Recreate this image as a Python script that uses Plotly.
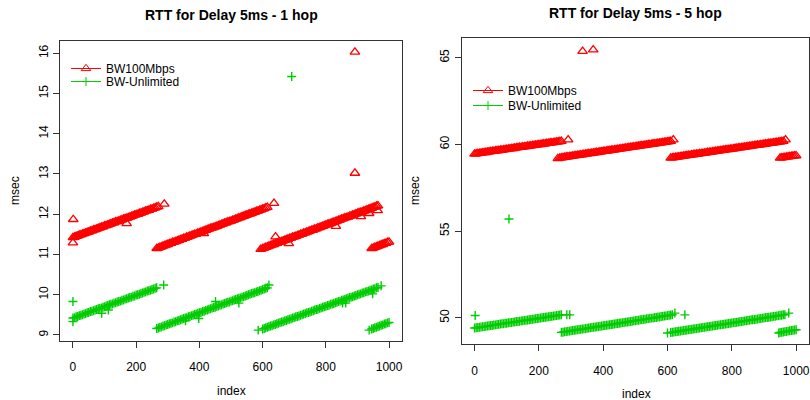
import plotly.graph_objects as go

STEP = 5  # index spacing of the samples inside each run

# ---------- RTT for Delay 5ms - 1 hop ----------
h1_bw100_run_start = [0, 265, 600, 945]
h1_bw100_runs = [
    [11.42, 11.43, 11.45, 11.46, 11.48, 11.49, 11.51, 11.52, 11.53, 11.55, 11.56, 11.58, 11.59, 11.61,
     11.62, 11.63, 11.65, 11.66, 11.68, 11.69, 11.71, 11.72, 11.73, 11.75, 11.76, 11.78, 11.79, 11.81,
     11.82, 11.83, 11.85, 11.86, 11.88, 11.89, 11.90, 11.92, 11.93, 11.95, 11.96, 11.98, 11.99, 12.00,
     12.02, 12.03, 12.05, 12.06, 12.08, 12.09, 12.10, 12.12, 12.13, 12.15, 12.16, 12.18, 12.19],
    [11.15, 11.16, 11.18, 11.19, 11.21, 11.22, 11.24, 11.25, 11.27, 11.28, 11.30, 11.31, 11.32, 11.34,
     11.35, 11.37, 11.38, 11.40, 11.41, 11.43, 11.44, 11.46, 11.47, 11.49, 11.50, 11.51, 11.53, 11.54,
     11.56, 11.57, 11.59, 11.60, 11.62, 11.63, 11.65, 11.66, 11.67, 11.69, 11.70, 11.72, 11.73, 11.75,
     11.76, 11.78, 11.79, 11.81, 11.82, 11.83, 11.85, 11.86, 11.88, 11.89, 11.91, 11.92, 11.94, 11.95,
     11.97, 11.98, 12.00, 12.01, 12.02, 12.04, 12.05, 12.07, 12.08, 12.10, 12.11, 12.13, 12.14, 12.16,
     12.17],
    [11.15, 11.16, 11.18, 11.19, 11.21, 11.22, 11.24, 11.25, 11.27, 11.28, 11.30, 11.31, 11.32, 11.34,
     11.35, 11.37, 11.38, 11.40, 11.41, 11.43, 11.44, 11.45, 11.47, 11.48, 11.50, 11.51, 11.53, 11.54,
     11.56, 11.57, 11.59, 11.60, 11.61, 11.63, 11.64, 11.66, 11.67, 11.69, 11.70, 11.72, 11.73, 11.75,
     11.76, 11.77, 11.79, 11.80, 11.82, 11.83, 11.85, 11.86, 11.88, 11.89, 11.91, 11.92, 11.93, 11.95,
     11.96, 11.98, 11.99, 12.01, 12.02, 12.04, 12.05, 12.06, 12.08, 12.09, 12.11, 12.12, 12.14, 12.15,
     12.17, 12.18, 12.20, 12.21],
    [11.15, 11.16, 11.18, 11.19, 11.21, 11.22, 11.24, 11.25, 11.27, 11.28, 11.30, 11.31],
]
h1_bw100_extra_idx = [0, 1, 170, 289, 414, 594, 636, 641, 683, 832, 892, 892, 911, 937, 964]
h1_bw100_extra_rtt = [11.29, 11.87, 11.77, 12.25, 11.52, 11.13, 12.27, 11.44, 11.27, 11.70,
                      16.03, 13.02, 11.94, 12.02, 12.09]

h1_unl_run_start = [0, 265, 600, 945]
h1_unl_runs = [
    [9.42, 9.43, 9.45, 9.46, 9.48, 9.49, 9.50, 9.52, 9.53, 9.55, 9.56, 9.58, 9.59, 9.60, 9.62, 9.63,
     9.65, 9.66, 9.67, 9.69, 9.70, 9.72, 9.73, 9.75, 9.76, 9.77, 9.79, 9.80, 9.82, 9.83, 9.84, 9.86,
     9.87, 9.89, 9.90, 9.92, 9.93, 9.94, 9.96, 9.97, 9.99, 10.00, 10.01, 10.03, 10.04, 10.06, 10.07,
     10.09, 10.10, 10.11, 10.13, 10.14, 10.16, 10.17],
    [9.16, 9.17, 9.19, 9.20, 9.22, 9.23, 9.25, 9.26, 9.28, 9.29, 9.30, 9.32, 9.33, 9.35, 9.36, 9.38,
     9.39, 9.41, 9.42, 9.43, 9.45, 9.46, 9.48, 9.49, 9.51, 9.52, 9.54, 9.55, 9.56, 9.58, 9.59, 9.61,
     9.62, 9.64, 9.65, 9.67, 9.68, 9.69, 9.71, 9.72, 9.74, 9.75, 9.77, 9.78, 9.80, 9.81, 9.82, 9.84,
     9.85, 9.87, 9.88, 9.90, 9.91, 9.92, 9.94, 9.95, 9.97, 9.98, 10.00, 10.01, 10.03, 10.04, 10.05,
     10.07, 10.08, 10.10, 10.11, 10.13, 10.14, 10.16, 10.17],
    [9.15, 9.16, 9.18, 9.19, 9.21, 9.22, 9.23, 9.25, 9.26, 9.28, 9.29, 9.31, 9.32, 9.33, 9.35, 9.36,
     9.38, 9.39, 9.40, 9.42, 9.43, 9.45, 9.46, 9.47, 9.49, 9.50, 9.52, 9.53, 9.55, 9.56, 9.57, 9.59,
     9.60, 9.62, 9.63, 9.64, 9.66, 9.67, 9.69, 9.70, 9.71, 9.73, 9.74, 9.76, 9.77, 9.78, 9.80, 9.81,
     9.83, 9.84, 9.86, 9.87, 9.88, 9.90, 9.91, 9.93, 9.94, 9.95, 9.97, 9.98, 10.00, 10.01, 10.02,
     10.04, 10.05, 10.07, 10.08, 10.09, 10.11, 10.12, 10.14, 10.15, 10.17, 10.18],
    [9.15, 9.16, 9.18, 9.19, 9.21, 9.22, 9.24, 9.25, 9.27, 9.28, 9.30, 9.31],
]
h1_unl_extra_idx = [0, 0, 91, 112, 287, 356, 398, 451, 525, 586, 620, 692, 853, 863, 937, 948, 975]
h1_unl_extra_rtt = [9.83, 9.33, 9.54, 9.62, 10.24, 9.35, 9.41, 9.83, 9.79, 9.12, 10.24, 15.42,
                    9.79, 9.79, 9.12, 10.02, 10.22]

# ---------- RTT for Delay 5ms - 5 hop ----------
h5_bw100_run_start = [0, 265, 610, 950]
h5_bw100_runs = [
    [59.45, 59.46, 59.48, 59.49, 59.50, 59.52, 59.53, 59.54, 59.56, 59.57, 59.59, 59.60, 59.61, 59.63,
     59.64, 59.65, 59.67, 59.68, 59.69, 59.71, 59.72, 59.73, 59.75, 59.76, 59.77, 59.79, 59.80, 59.82,
     59.83, 59.84, 59.86, 59.87, 59.88, 59.90, 59.91, 59.92, 59.94, 59.95, 59.96, 59.98, 59.99, 60.00,
     60.02, 60.03, 60.04, 60.06, 60.07, 60.09, 60.10, 60.11, 60.13, 60.14, 60.15, 60.17, 60.18],
    [59.22, 59.23, 59.25, 59.26, 59.28, 59.29, 59.30, 59.32, 59.33, 59.35, 59.36, 59.37, 59.39, 59.40,
     59.41, 59.43, 59.44, 59.46, 59.47, 59.48, 59.50, 59.51, 59.53, 59.54, 59.55, 59.57, 59.58, 59.60,
     59.61, 59.62, 59.64, 59.65, 59.67, 59.68, 59.69, 59.71, 59.72, 59.73, 59.75, 59.76, 59.78, 59.79,
     59.80, 59.82, 59.83, 59.85, 59.86, 59.87, 59.89, 59.90, 59.92, 59.93, 59.94, 59.96, 59.97, 59.99,
     60.00, 60.01, 60.03, 60.04, 60.05, 60.07, 60.08, 60.10, 60.11, 60.12, 60.14, 60.15, 60.17, 60.18],
    [59.22, 59.23, 59.25, 59.26, 59.27, 59.29, 59.30, 59.32, 59.33, 59.34, 59.36, 59.37, 59.38, 59.40,
     59.41, 59.43, 59.44, 59.45, 59.47, 59.48, 59.49, 59.51, 59.52, 59.54, 59.55, 59.56, 59.58, 59.59,
     59.60, 59.62, 59.63, 59.65, 59.66, 59.67, 59.69, 59.70, 59.71, 59.73, 59.74, 59.75, 59.77, 59.78,
     59.80, 59.81, 59.82, 59.84, 59.85, 59.86, 59.88, 59.89, 59.91, 59.92, 59.93, 59.95, 59.96, 59.97,
     59.99, 60.00, 60.02, 60.03, 60.04, 60.06, 60.07, 60.08, 60.10, 60.11, 60.12, 60.14, 60.15, 60.17,
     60.18],
    [59.22, 59.23, 59.25, 59.26, 59.27, 59.29, 59.30, 59.31, 59.33, 59.34, 59.35],
]
h5_bw100_extra_idx = [259, 291, 336, 369, 618, 967]
h5_bw100_extra_rtt = [59.18, 60.27, 65.37, 65.46, 60.27, 60.27]

h5_unl_run_start = [0, 270, 610, 950]
h5_unl_runs = [
    [49.41, 49.42, 49.44, 49.45, 49.47, 49.48, 49.49, 49.51, 49.52, 49.54, 49.55, 49.56, 49.58, 49.59,
     49.61, 49.62, 49.64, 49.65, 49.66, 49.68, 49.69, 49.71, 49.72, 49.73, 49.75, 49.76, 49.78, 49.79,
     49.80, 49.82, 49.83, 49.85, 49.86, 49.87, 49.89, 49.90, 49.92, 49.93, 49.94, 49.96, 49.97, 49.99,
     50.00, 50.01, 50.03, 50.04, 50.06, 50.07, 50.08, 50.10, 50.11, 50.13, 50.14, 50.16, 50.17],
    [49.16, 49.17, 49.19, 49.20, 49.22, 49.23, 49.25, 49.26, 49.28, 49.29, 49.31, 49.32, 49.34, 49.35,
     49.36, 49.38, 49.39, 49.41, 49.42, 49.44, 49.45, 49.47, 49.48, 49.50, 49.51, 49.53, 49.54, 49.56,
     49.57, 49.58, 49.60, 49.61, 49.63, 49.64, 49.66, 49.67, 49.69, 49.70, 49.72, 49.73, 49.75, 49.76,
     49.77, 49.79, 49.80, 49.82, 49.83, 49.85, 49.86, 49.88, 49.89, 49.91, 49.92, 49.94, 49.95, 49.97,
     49.98, 49.99, 50.01, 50.02, 50.04, 50.05, 50.07, 50.08, 50.10, 50.11, 50.13, 50.14, 50.16, 50.17],
    [49.15, 49.16, 49.18, 49.19, 49.21, 49.22, 49.24, 49.25, 49.27, 49.28, 49.30, 49.31, 49.32, 49.34,
     49.35, 49.37, 49.38, 49.40, 49.41, 49.43, 49.44, 49.45, 49.47, 49.48, 49.50, 49.51, 49.53, 49.54,
     49.56, 49.57, 49.59, 49.60, 49.61, 49.63, 49.64, 49.66, 49.67, 49.69, 49.70, 49.72, 49.73, 49.74,
     49.76, 49.77, 49.79, 49.80, 49.82, 49.83, 49.85, 49.86, 49.88, 49.89, 49.90, 49.92, 49.93, 49.95,
     49.96, 49.98, 49.99, 50.01, 50.02, 50.03, 50.05, 50.06, 50.08, 50.09, 50.11, 50.12, 50.14, 50.15,
     50.17, 50.18],
    [49.15, 49.17, 49.18, 49.20, 49.21, 49.23, 49.25, 49.26, 49.28, 49.29, 49.31],
]
h5_unl_extra_idx = [2, 107, 287, 296, 600, 623, 654, 946, 977]
h5_unl_extra_rtt = [50.13, 55.70, 50.17, 50.17, 49.12, 50.27, 50.17, 49.12, 50.27]

X_TICKS = [0, 200, 400, 600, 800, 1000]
Y_TICKS_1HOP = [9, 10, 11, 12, 13, 14, 15, 16]
Y_TICKS_5HOP = [50, 55, 60, 65]

SERIES_NAMES = ["BW100Mbps", "BW-Unlimited"]
RED = "#FF0000"
GREEN = "#00CD00"
FONT = "Liberation Sans, Arial, sans-serif"


def expand(starts, runs, extra_idx, extra_rtt):
    xs, ys = [], []
    for s, run in zip(starts, runs):
        xs += [s + STEP * k for k in range(len(run))]
        ys += run
    return xs + extra_idx, ys + extra_rtt


tri = dict(symbol="triangle-up-open", size=8.4, color=RED, line=dict(width=1.3, color=RED))
plus = dict(symbol="cross-thin-open", size=6.4, color=GREEN, line=dict(width=1.4, color=GREEN))

fig = go.Figure()

# each legend row is its own legend box so the rows can sit as close as in base graphics
panels = [
    ("x", "y", ("legend", "legend2"),
     (h1_bw100_run_start, h1_bw100_runs, h1_bw100_extra_idx, h1_bw100_extra_rtt),
     (h1_unl_run_start, h1_unl_runs, h1_unl_extra_idx, h1_unl_extra_rtt)),
    ("x2", "y2", ("legend3", "legend4"),
     (h5_bw100_run_start, h5_bw100_runs, h5_bw100_extra_idx, h5_bw100_extra_rtt),
     (h5_unl_run_start, h5_unl_runs, h5_unl_extra_idx, h5_unl_extra_rtt)),
]

for xa, ya, lgs, red_data, green_data in panels:
    for data, mk in ((red_data, tri), (green_data, plus)):
        xs, ys = expand(*data)
        fig.add_trace(go.Scatter(x=xs, y=ys, mode="markers", marker=mk, xaxis=xa, yaxis=ya,
                                 showlegend=False, hoverinfo="skip"))
    # legend keys: line with the point symbol
    for name, mk, col, lg in ((SERIES_NAMES[0], tri, RED, lgs[0]), (SERIES_NAMES[1], plus, GREEN, lgs[1])):
        key_mk = dict(mk, line=dict(width=1, color=col))
        fig.add_trace(go.Scatter(x=[None], y=[None], mode="lines+markers", name=name,
                                 marker=key_mk, line=dict(color=col, width=1),
                                 xaxis=xa, yaxis=ya, legend=lg))

axis_common = dict(showline=True, mirror=True, linecolor="#333", linewidth=1, ticks="outside",
                   ticklen=6, tickcolor="#333", showgrid=False, zeroline=False,
                   tickfont=dict(family=FONT, size=12, color="#000"))


def legend_box(x_px, top_px):
    return dict(x=x_px / 810, y=1 - top_px / 400, xanchor="left", yanchor="top",
                bgcolor="rgba(0,0,0,0)", font=dict(family=FONT, size=12, color="#000"))


fig.update_layout(
    width=810, height=400, margin=dict(l=0, r=0, t=0, b=0),
    paper_bgcolor="white", plot_bgcolor="white",
    font=dict(family=FONT, size=12, color="#000"),
    xaxis=dict(domain=[60.3 / 810, 401.7 / 810], range=[-40, 1040], tickvals=X_TICKS,
               anchor="y", ticklabelstandoff=9, **axis_common),
    yaxis=dict(domain=[1 - 340.7 / 400, 1 - 40.7 / 400], range=[8.857, 16.31], tickvals=Y_TICKS_1HOP,
               anchor="x", tickangle=-90, ticklabelstandoff=1, **axis_common),
    xaxis2=dict(domain=[461.7 / 810, 809 / 810], range=[-40, 1040], tickvals=X_TICKS,
                anchor="y2", ticklabelstandoff=9, **axis_common),
    yaxis2=dict(domain=[1 - 344.3 / 400, 1 - 38.3 / 400], range=[48.47, 66.12], tickvals=Y_TICKS_5HOP,
                anchor="x2", tickangle=-90, ticklabelstandoff=1, **axis_common),
    legend=legend_box(66, 54),
    legend2=legend_box(66, 67),
    legend3=legend_box(468, 76),
    legend4=legend_box(468, 91),
    annotations=[
        dict(text="<b>RTT for Delay 5ms - 1 hop</b>", x=231 / 810, y=1 - 15 / 400),
        dict(text="<b>RTT for Delay 5ms - 5 hop</b>", x=635 / 810, y=1 - 13 / 400),
        dict(text="index", x=231 / 810, y=1 - 391 / 400),
        dict(text="index", x=636 / 810, y=1 - 394 / 400),
        dict(text="msec", x=15 / 810, y=1 - 191 / 400, textangle=-90),
        dict(text="msec", x=415 / 810, y=1 - 191 / 400, textangle=-90),
    ],
)
fig.update_annotations(xref="paper", yref="paper", xanchor="center", yanchor="middle",
                       showarrow=False, font=dict(family=FONT, size=12, color="#000"))
for ann in fig.layout.annotations[:2]:
    ann.font.size = 14

fig.write_html("out.html")
